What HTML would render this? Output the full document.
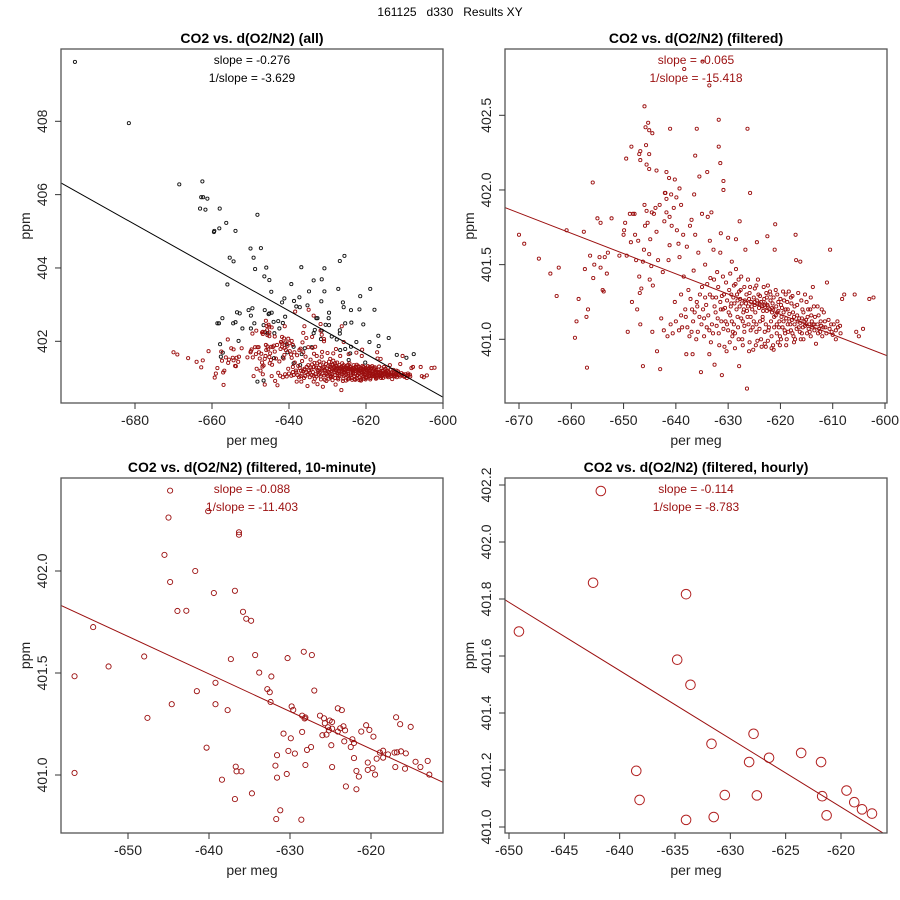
<!DOCTYPE html>
<html><head><meta charset="utf-8"><style>
html,body{margin:0;padding:0;background:#fff}
svg{display:block;font-family:"Liberation Sans",Arial,sans-serif}
</style></head><body>
<svg id="chart" width="900" height="900" viewBox="0 0 900 900">
<rect width="900" height="900" fill="#fff"/>
<text x="450" y="16" text-anchor="middle" font-size="12" fill="#000" xml:space="preserve">161125   d330   Results XY</text>
</svg>
<script>
// ---- data ----
const filteredPoints = [[-670,401.7],[-669,401.64],[-666.2,401.54],[-664,401.44],[-662.4,401.48],[-662.8,401.29],[-660.9,401.73],[-659.3,401.01],[-659,401.12],[-658.6,401.27],[-657.6,401.72],[-657.4,401.47],[-657.1,401.15],[-657,400.81],[-656.8,401.2],[-656.4,401.56],[-655.9,402.05],[-655.8,401.41],[-655.6,401.5],[-655,401.81],[-654.6,401.55],[-654.4,401.78],[-654.4,401.48],[-654,401.33],[-653.8,401.32],[-653.6,401.55],[-653.2,401.44],[-653,401.58],[-652.3,401.81],[-650.8,401.56],[-650,401.7],[-649.9,401.73],[-649.7,401.78],[-649.4,401.56],[-649.2,401.05],[-648.8,401.84],[-648.6,401.65],[-648.4,401.25],[-648.2,401.84],[-647.8,401.7],[-647.6,401.53],[-647.4,401.2],[-647.2,401.66],[-647,401.42],[-646.9,401.31],[-646.8,401.1],[-646.6,401.34],[-646.3,400.82],[-646.3,401.52],[-646.1,401.6],[-645.9,401.76],[-645.6,401.86],[-645.4,401.78],[-645.1,401.57],[-645,401.4],[-644.9,401.67],[-644.7,401.49],[-644.5,401.05],[-644.4,401.36],[-644.2,401.84],[-643.9,401.88],[-643.6,400.92],[-643.4,401.53],[-643,400.8],[-642.8,401.14],[-642.5,401.45],[-642.2,401.79],[-642,401.98],[-641.8,401.85],[-641.4,401.53],[-641.2,401.63],[-640.8,401.76],[-640.4,401.88],[-640.2,401.25],[-639.8,401.73],[-639.5,401.64],[-639.3,401.55],[-639,401.3],[-638.8,401.08],[-638.5,401.42],[-638.2,401.2],[-637.9,401.62],[-637.6,401.33],[-637.3,401.76],[-637,401.05],[-636.8,400.9],[-636.6,401.46],[-636.3,401.7],[-636,401.25],[-635.7,401.58],[-635.5,401.15],[-635.2,400.78],[-635,401.35],[-634.6,401.02],[-634.4,401.5],[-634.2,401.23],[-633.9,401.82],[-633.6,400.9],[-633.4,401.41],[-633.1,401.1],[-632.8,401.6],[-632.6,400.83],[-632.3,401.28],[-632.1,401.45],[-631.8,401.04],[-631.5,401.58],[-631.2,400.76],[-631,401.2],[-630.7,400.95],[-630.4,401.38],[-630.2,401.1],[-630,401.68],[-629.7,400.98],[-629.4,401.3],[-629.1,401.05],[-628.8,401.24],[-628.5,401.47],[-628.2,401.15],[-627.9,400.82],[-627.6,401.33],[-627.3,401.0],[-627,401.2],[-626.7,401.6],[-626.4,400.67],[-626.1,401.1],[-625.8,401.35],[-625.5,401.22],[-625.2,400.93],[-624.9,401.25],[-624.6,401.05],[-624.3,401.4],[-624,401.24],[-623.7,401.0],[-623.4,401.13],[-623.1,401.27],[-622.8,400.95],[-622.5,401.23],[-622.2,401.08],[-621.9,401.3],[-621.6,401.18],[-621.3,400.93],[-621,401.77],[-620.7,401.1],[-620.4,401.25],[-620.1,401.02],[-619.8,401.15],[-619.5,401.32],[-619.2,401.06],[-618.9,400.96],[-618.6,401.2],[-618.3,401.12],[-618,401.28],[-617.7,401.04],[-617.4,401.15],[-617.1,401.7],[-616.8,401.23],[-616.5,401.08],[-616.2,401.52],[-615.9,401.14],[-615.6,401.0],[-615.3,401.3],[-615,401.1],[-614.7,401.2],[-614.4,401.05],[-614.1,401.16],[-613.8,401.35],[-613.5,401.1],[-613.2,400.97],[-612.9,401.22],[-612.6,401.07],[-612.3,401.12],[-612,401.02],[-611.7,401.18],[-611.4,401.08],[-611.1,401.38],[-610.8,401.13],[-610.5,401.6],[-610.2,401.05],[-609.8,401.1],[-609.4,401.0],[-609,401.08],[-608.5,401.04],[-608.2,401.27],[-607.8,401.3],[-605.8,401.3],[-605.5,401.05],[-605,401.02],[-604.2,401.07],[-603,401.27],[-602.2,401.28],
[-631.5,401.25],[-630.8,401.3],[-629.9,401.18],[-629.5,401.22],[-628.9,401.1],[-628.3,401.3],[-627.8,401.22],[-627.2,401.12],[-626.8,401.26],[-626.2,401.22],[-625.7,401.15],[-625.3,401.08],[-624.8,401.18],[-624.4,401.24],[-623.9,401.12],[-623.5,401.22],[-623,401.05],[-622.6,401.28],[-622.1,401.2],[-621.7,401.02],[-621.2,401.15],[-620.8,401.22],[-620.3,401.08],[-619.9,401.0],[-619.4,401.12],[-619,401.2],[-618.5,401.05],[-618.1,401.1],[-617.6,401.18],[-617.2,401.0],[-616.7,401.12],[-616.3,401.05],[-615.8,401.2],[-615.4,401.12],[-614.9,401.04],[-614.5,401.1],[-613.9,401.08],[-613.4,401.15],[-612.8,401.04],[-612.2,401.09],[-630.5,401.12],[-629.2,401.02],[-628,401.0],[-626.9,401.05],[-625.9,400.98],[-624.7,400.96],[-623.6,400.95],[-622.4,400.99],[-621.4,400.96],[-620.5,400.98],[-633,401.28],[-632.4,401.18],[-631.9,401.35],[-631.3,401.12],[-634.8,401.2],[-634.1,401.08],[-633.5,401.3],[-635.8,401.05],[-636.4,401.18],[-637.4,401.02],[-638,400.9],[-639.4,401.06],[-640.6,401.04],[-641.6,401.02],[-628.6,401.37],[-627.5,401.42],[-626.5,401.3],[-625.1,401.28],[-624.2,401.3],[-623.2,401.35],[-622,401.32],[-621.5,401.24],[-620.6,401.3],[-619.3,401.26],[-618.4,401.32],[-617.9,401.24],[-616,401.26],[-614.2,401.28],
[-646,402.56],[-645.8,402.42],[-645.3,402.45],[-645.1,402.4],[-644.5,402.38],[-641.1,402.41],[-636,402.41],[-631.8,402.47],[-626.3,402.41],[-648.5,402.29],[-645.7,402.3],[-646.8,402.26],[-647,402.24],[-645.1,402.24],[-646.8,402.2],[-649.5,402.21],[-636.3,402.23],[-631.8,402.29],[-631.5,402.18],[-645.6,402.17],[-645.1,402.14],[-643.7,402.13],[-641.8,402.12],[-641.3,402.08],[-640.2,402.07],[-639.3,402.01],[-634,402.12],[-635.5,402.09],[-630.9,402.06],[-630.9,402.0],[-625.8,401.98],[-636.5,401.97],[-642.1,401.98],[-640.9,401.97],[-641.8,401.94],[-639.9,401.95],[-647.9,401.84],[-646,401.9],[-644.6,401.85],[-643.1,401.9],[-641.2,401.82],[-639,401.9],[-637,401.8],[-635,401.84],[-633.2,401.85],[-631.4,401.71],[-628.5,401.67],[-627.8,401.79],[-621.1,401.6],[-622.5,401.69],[-624.5,401.65],[-617,401.53],[-629.3,401.52],[-633.5,401.66],[-638.6,401.7],[-643.7,401.72],[-638.4,402.81],[-633.6,402.70],[-634.9,402.86]];

const filteredClusterPoints = [[-630.2,401.26],[-629.6,401.16],[-629,401.28],[-628.4,401.2],[-627.7,401.27],[-627.1,401.18],[-626.6,401.24],[-626,401.27],[-625.4,401.2],[-624.9,401.23],[-624.5,401.26],[-624.1,401.21],[-623.7,401.25],[-623.3,401.19],[-622.9,401.24],[-622.4,401.22],[-621.9,401.26],[-621.4,401.2],[-620.9,401.16],[-620.4,401.19],[-619.9,401.23],[-619.4,401.18],[-618.9,401.14],[-618.3,401.17],[-617.8,401.13],[-617.3,401.1],[-616.8,401.16],[-616.2,401.11],[-615.7,401.08],[-615.1,401.13],[-614.6,401.07],[-614,401.12],[-613.5,401.06],[-612.9,401.1],[-612.4,401.05],[-611.8,401.08],[-611.2,401.04],[-610.6,401.07],[-610,401.03],[-609.4,401.06],[-630,401.06],[-629.3,401.12],[-628.7,401.04],[-628.1,401.08],[-627.5,401.14],[-626.9,401.09],[-626.3,401.15],[-625.7,401.06],[-625.1,401.12],[-624.6,401.1],[-624,401.07],[-623.4,401.15],[-622.8,401.1],[-622.3,401.06],[-621.8,401.12],[-621.2,401.08],[-620.7,401.04],[-620.2,401.12],[-619.6,401.08],[-619.1,401.04],[-618.6,401.1],[-618,401.06],[-617.5,401.02],[-616.9,401.07],[-616.4,401.14],[-615.9,401.04],[-615.3,401.09],[-614.8,401.15],[-614.2,401.02],[-613.7,401.1],[-632.6,401.22],[-632,401.14],[-631.4,401.2],[-630.9,401.07],[-632.9,401.04],[-633.8,401.16],[-634.4,401.28],[-635.1,401.1],[-635.9,401.22],[-636.7,401.12],[-637.2,401.27],[-638.1,401.15],[-633.3,400.98],[-631.7,400.96],[-630.3,400.92],[-628.7,400.94],[-627.2,400.96],[-626,400.92],[-624.4,400.99],[-623,400.97],[-621.7,400.94],[-620.1,400.96],[-618.8,401.0],[-617.4,400.98],[-616.1,401.0],[-629.8,401.33],[-628.9,401.36],[-627.9,401.32],[-626.9,401.35],[-625.9,401.31],[-624.9,401.34],[-623.9,401.29],[-622.7,401.31],[-621.3,401.28],[-620,401.27],[-618.7,401.25],[-617.3,401.22],[-615.6,401.18],[-614.3,401.2],[-612.7,401.16],[-611.5,401.12],[-610.3,401.1],[-609.1,401.12],[-608.6,401.09],[-623.1,401.23],[-622.6,401.19],[-621.6,401.21],[-620.6,401.18],[-619.7,401.21],[-625.6,401.25],[-626.4,401.19],[-627.4,401.24],[-628.2,401.26],[-629.4,401.24],[-630.6,401.21],[-631.2,401.29],[-632.2,401.09],[-633.6,401.06],[-634.6,401.14],[-636.1,401.0],[-637.8,401.08],[-639,401.16],[-640,401.12],[-641,401.1],[-642.3,401.06],[-636.9,401.2],[-635.4,401.3],[-634,401.37],[-632.7,401.4],[-631,401.42],[-629.6,401.44],[-628,401.4],[-626.2,401.4],[-624.6,401.36],[-622.4,401.36],[-620.9,401.33],[-619,401.3],[-617.7,401.29],[-616.6,401.31],[-615,401.25],[-613.6,401.22],[-612.1,401.2]];

const unfilteredExtraPoints = [[-695.6,409.62],[-681.6,407.95],[-668.5,406.28],[-662.5,406.36],[-662.8,405.93],[-662.3,405.93],[-661.2,405.89],[-663.1,405.62],[-661.7,405.59],[-658,405.62],[-656.3,405.23],[-658.1,405.08],[-659.5,404.98],[-659.4,405.01],[-653.9,405.01],[-648.2,405.45],[-650,404.53],[-647.3,404.54],[-649.2,404.28],[-655.4,404.28],[-654.4,404.18],[-648.8,403.97],[-645.9,404.01],[-656,403.55],[-646.4,403.77],[-645.1,403.67],[-644.6,403.35],[-636.8,404.02],[-630.8,403.99],[-626.8,404.19],[-625.6,404.33],[-633.6,403.66],[-631.5,403.69],[-639.4,403.56],[-634.8,403.36],[-630.8,403.36],[-627.2,403.43],[-618.9,403.43],[-621.5,403.23],[-626,403.06],[-625.8,402.93],[-631.6,403.09],[-641.2,403.17],[-641.8,403.06],[-638.7,403.1],[-637.3,403.2],[-638.1,402.95],[-637.2,402.93],[-635.2,402.98],[-623.9,402.85],[-621.7,402.87],[-617.8,402.86],[-629.6,402.78],[-629.7,402.63],[-632.9,402.63],[-632.6,402.63],[-633.3,402.31],[-633.6,402.22],[-631.5,402.29],[-630.5,402.45],[-629.6,402.44],[-625.4,402.49],[-623.8,402.51],[-626.8,402.21],[-626.8,402.3],[-620.7,402.46],[-616.8,402.15],[-614.1,402.09],[-619.1,401.98],[-616.7,401.87],[-622.5,401.98],[-625.4,401.79],[-623.9,401.85],[-620.2,401.42],[-609.5,401.55],[-607.6,401.65],[-612,401.63],[-627.6,402.05],[-628.9,402.13],[-631.7,402.06],[-650.5,402.85],[-649.5,402.9],[-649.9,402.7],[-652.8,402.76],[-653.5,402.79],[-657.3,402.63],[-658.6,402.49],[-658.2,402.49],[-654.5,402.49],[-653.9,402.52],[-652.1,402.35],[-649.9,402.35],[-649,402.49],[-646.3,402.85],[-645.1,402.76],[-644.5,402.78],[-645.3,402.74],[-644,402.53],[-642.8,402.55],[-641.6,402.5],[-641,402.67],[-642.5,402.35],[-643.8,402.22],[-646.6,402.44],[-646.2,402.25],[-645.6,402.22],[-653.1,402.01],[-657.9,401.92],[-657.2,401.69],[-657.7,401.58],[-648.2,400.9],[-646.6,400.93],[-640.6,401.92],[-638.8,401.85],[-640.4,401.7],[-641.6,401.56],[-643.9,401.54],[-635.9,401.81],[-636.7,401.65],[-634.1,401.84],[-626.7,401.76],[-624.1,401.67],[-624.5,401.49],[-638.8,401.4],[-637.1,401.35]];

const tenMinutePoints = [[-644.8,402.394],[-640.1,402.293],[-645.0,402.262],[-636.3,402.19],[-636.3,402.178],[-645.5,402.079],[-641.7,402.0],[-644.8,401.946],[-639.4,401.892],[-636.8,401.903],[-643.9,401.804],[-642.8,401.805],[-635.8,401.8],[-635.4,401.766],[-634.8,401.756],[-654.3,401.725],[-648.0,401.581],[-652.4,401.532],[-656.6,401.484],[-637.3,401.568],[-634.3,401.588],[-628.3,401.604],[-627.3,401.588],[-630.3,401.573],[-633.8,401.502],[-632.3,401.483],[-639.2,401.452],[-641.5,401.411],[-632.8,401.421],[-632.5,401.406],[-627.0,401.414],[-632.4,401.358],[-644.6,401.347],[-639.2,401.347],[-637.7,401.318],[-647.6,401.28],[-629.8,401.336],[-629.6,401.319],[-628.5,401.291],[-628.2,401.277],[-628.1,401.282],[-626.3,401.291],[-625.8,401.278],[-625.7,401.254],[-625.1,401.267],[-624.8,401.26],[-624.1,401.327],[-623.6,401.318],[-623.4,401.239],[-623.8,401.229],[-623.2,401.219],[-624.1,401.213],[-625.3,401.234],[-625.2,401.219],[-624.8,401.227],[-626.0,401.195],[-625.5,401.198],[-630.8,401.203],[-629.9,401.18],[-628.5,401.211],[-624.9,401.146],[-623.3,401.165],[-622.3,401.175],[-622.1,401.157],[-622.5,401.137],[-627.4,401.137],[-627.9,401.123],[-630.2,401.118],[-629.4,401.105],[-631.6,401.097],[-621.2,401.213],[-620.6,401.244],[-620.2,401.221],[-619.7,401.188],[-616.9,401.283],[-616.4,401.249],[-615.1,401.236],[-618.9,401.11],[-618.5,401.119],[-617.9,401.101],[-617.1,401.11],[-616.8,401.111],[-616.3,401.116],[-615.7,401.106],[-619.3,401.08],[-618.5,401.085],[-622.1,401.083],[-620.4,401.061],[-619.8,401.033],[-620.4,401.025],[-619.5,401.002],[-621.8,401.02],[-621.5,400.992],[-623.1,400.944],[-621.8,400.93],[-624.8,401.039],[-628.1,401.049],[-617.0,401.039],[-615.8,401.031],[-614.5,401.065],[-613.9,401.039],[-613.0,401.069],[-612.8,401.002],[-640.3,401.134],[-636.7,401.041],[-636.6,401.018],[-636.0,401.018],[-638.4,400.977],[-634.7,400.91],[-636.8,400.882],[-631.8,401.046],[-631.6,400.987],[-630.4,401.005],[-631.2,400.827],[-631.7,400.784],[-628.6,400.781],[-656.6,401.01]];

const hourlyPoints = [[-649.1,401.686],[-642.4,401.857],[-641.7,402.179],[-638.5,401.197],[-638.2,401.095],[-634.8,401.587],[-634.0,401.817],[-634.0,401.025],[-633.6,401.499],[-631.7,401.292],[-631.5,401.035],[-630.5,401.112],[-628.3,401.228],[-627.9,401.327],[-627.6,401.111],[-626.5,401.243],[-623.6,401.26],[-621.8,401.228],[-621.7,401.108],[-621.3,401.041],[-619.5,401.128],[-618.8,401.087],[-618.1,401.062],[-617.2,401.047]];

// regression lines: [x0, y0, dy/dx]
const regAll = [-699.07, 406.31, -0.0589];
const regFiltered = [-672.68, 401.882, -0.01357];
const regTenMin = [-658.25, 401.831, -0.01839];
const regHourly = [-650.4, 401.798, -0.02395];

const ticksAllX = [-680,-660,-640,-620,-600];
const ticksAllY = [402,404,406,408];
const ticksFiltX = [-670,-660,-650,-640,-630,-620,-610,-600];
const ticksFiltY = [401.0,401.5,402.0,402.5];
const ticksTenX = [-650,-640,-630,-620];
const ticksTenY = [401.0,401.5,402.0];
const ticksHourX = [-650,-645,-640,-635,-630,-625,-620];
const ticksHourY = [401.0,401.2,401.4,401.6,401.8,402.0,402.2];

const slopeAll = ['slope = -0.276','1/slope = -3.629'];
const slopeFilt = ['slope = -0.065','1/slope = -15.418'];
const slopeTen = ['slope = -0.088','1/slope = -11.403'];
const slopeHour = ['slope = -0.114','1/slope = -8.783'];

// ---- drawing ----
const NS='http://www.w3.org/2000/svg';
const svg=document.getElementById('chart');
const RED='#9b0f0f';
const allFiltered = filteredPoints.concat(filteredClusterPoints);
function mk(tag,attrs,parent){const e=document.createElementNS(NS,tag);for(const k in attrs)e.setAttribute(k,attrs[k]);(parent||svg).appendChild(e);return e;}
let clipN=0;
function panel(c){
  const g=mk('g',{});
  
  
  const sx=v=>c.xp[0]+(v-c.xv[0])*(c.xp[1]-c.xp[0])/(c.xv[1]-c.xv[0]);
  const sy=v=>c.yp[0]+(v-c.yv[0])*(c.yp[1]-c.yp[0])/(c.yv[1]-c.yv[0]);
  const cid='clip'+(clipN++);
  const cp=mk('clipPath',{id:cid},g);
  mk('rect',{x:c.l,y:c.t,width:c.r-c.l,height:c.b-c.t},cp);
  const pg=mk('g',{'clip-path':'url(#'+cid+')'},g);
  c.series.forEach(s=>{
    s.pts.forEach(p=>{
      const ci=mk('circle',{cx:sx(p[0]).toFixed(2),cy:sy(p[1]).toFixed(2),r:s.r,fill:'none',stroke:s.color,'stroke-width':s.sw},pg);
      
      
    });
  });
  const xa=c.xv[0]-(c.xp[0]-c.l)*(c.xv[1]-c.xv[0])/(c.xp[1]-c.xp[0]);
  const xb=c.xv[0]+(c.r-c.xp[0])*(c.xv[1]-c.xv[0])/(c.xp[1]-c.xp[0]);
  const L=c.reg;
  const ln=mk('line',{x1:sx(xa),y1:sy(L[1]+(xa-L[0])*L[2]),x2:sx(xb),y2:sy(L[1]+(xb-L[0])*L[2]),stroke:c.lineColor,'stroke-width':1},pg);
  
  
  const box=mk('rect',{x:c.l,y:c.t,width:c.r-c.l,height:c.b-c.t,fill:'none',stroke:'#555','stroke-width':1.3},g);
  
  
  c.xticks.forEach(v=>{
    const x=sx(v);
    mk('line',{x1:x,y1:c.b,x2:x,y2:c.b+6,stroke:'#333'},g);
    const t=mk('text',{x:x,y:c.b+22,'text-anchor':'middle','font-size':14,fill:'#222'},g);
    t.textContent=String(v);
    
    
  });
  c.yticks.forEach(v=>{
    const y=sy(v);
    mk('line',{x1:c.l,y1:y,x2:c.l-6,y2:y,stroke:'#333'},g);
    const t=mk('text',{x:0,y:0,'text-anchor':'middle','font-size':14,fill:'#222',transform:'translate('+(c.l-14)+','+y+') rotate(-90)'},g);
    t.textContent=v.toFixed(c.ydec);
    
    
  });
  const cx=(c.l+c.r)/2;
  const ti=mk('text',{x:cx,y:c.t-6,'text-anchor':'middle','font-size':14,'font-weight':'bold',fill:'#000'},g);
  ti.textContent=c.title;
  
  
  c.slope.forEach((s,i)=>{
    const t=mk('text',{x:cx,y:c.t+15+i*18,'text-anchor':'middle','font-size':12,fill:c.textColor},g);
    t.textContent=s;
    
    
  });
  const xl=mk('text',{x:cx,y:c.b+42,'text-anchor':'middle','font-size':14,fill:'#222'},g);
  xl.textContent='per meg';
  
  
  const yl=mk('text',{x:0,y:0,'text-anchor':'middle','font-size':14,fill:'#222',transform:'translate('+(c.l-31)+','+((c.t+c.b)/2)+') rotate(-90)'},g);
  yl.textContent='ppm';
  
  
}
panel({name:'panel-all',l:61,t:49,r:443,b:403,xv:[-680,-600],xp:[135,443],yv:[402,408],yp:[341.3,121.3],
  xticks:ticksAllX,yticks:ticksAllY,ydec:0,title:'CO2 vs. d(O2/N2) (all)',slope:slopeAll,textColor:'#000',lineColor:'#000',reg:regAll,
  series:[{pts:unfilteredExtraPoints,color:'#111',r:1.6,sw:0.9,pname:'unfiltered-point'},{pts:allFiltered,color:RED,r:1.6,sw:0.9,pname:'filtered-point'}]});
panel({name:'panel-filtered',l:505,t:49,r:887,b:403,xv:[-670,-600],xp:[519,885],yv:[401,402.5],yp:[339.3,115.3],
  xticks:ticksFiltX,yticks:ticksFiltY,ydec:1,title:'CO2 vs. d(O2/N2) (filtered)',slope:slopeFilt,textColor:RED,lineColor:RED,reg:regFiltered,
  series:[{pts:allFiltered,color:RED,r:1.6,sw:0.9,pname:'filtered-point'}]});
panel({name:'panel-ten-minute',l:61,t:478,r:443,b:833,xv:[-650,-620],xp:[128,371],yv:[401,402],yp:[775,571],
  xticks:ticksTenX,yticks:ticksTenY,ydec:1,title:'CO2 vs. d(O2/N2) (filtered, 10-minute)',slope:slopeTen,textColor:RED,lineColor:RED,reg:regTenMin,
  series:[{pts:tenMinutePoints,color:RED,r:2.6,sw:0.9,pname:'ten-minute-point'}]});
panel({name:'panel-hourly',l:505,t:478,r:887,b:833,xv:[-650,-620],xp:[509,841],yv:[401,402.2],yp:[827,485],
  xticks:ticksHourX,yticks:ticksHourY,ydec:1,title:'CO2 vs. d(O2/N2) (filtered, hourly)',slope:slopeHour,textColor:RED,lineColor:RED,reg:regHourly,
  series:[{pts:hourlyPoints,color:'#b22222',r:4.8,sw:1}]});
</script>
</body></html>
